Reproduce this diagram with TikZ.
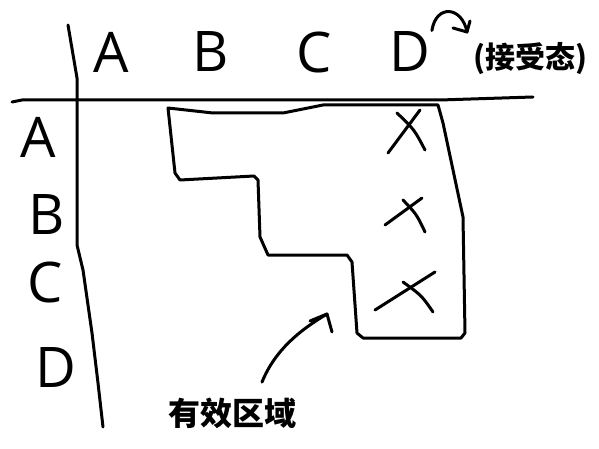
\documentclass[tikz,border=0pt]{standalone}
\usepackage{fontspec}
\setmainfont{Open Sans}
\newfontfamily\cjk{Noto Sans CJK SC}
\begin{document}
\begin{tikzpicture}[x=1pt, y=-1pt, line width=3pt, line join=round, line cap=round,
	letter/.style={inner sep=0pt, font=\fontsize{56}{60}\selectfont},
	note/.style={inner sep=0pt, font=\cjk\bfseries\fontsize{#1}{#1}\selectfont}]
	\useasboundingbox (0,0) rectangle (599,449);
	% table frame
	\draw (68,25)--(77,78)--(77,245)--(83,270)--(92,333)--(98,383)--(103,427);
	\draw (12,102)--(22,100)--(440,100)--(533,97);
	% column and row heads
	\foreach \n/\x in {A/111,B/211,C/314,D/410}{
		\node[letter] (c\n) at (\x,52) {\n};
	}
	\foreach \n/\x/\y in {A/38/137,B/47/215,C/45/282,D/56/368}{
		\node[letter] (r\n) at (\x,\y) {\n};
	}
	% valid region
	\draw (168,108)--(213,113)--(283,113)--(323,105)--(438,105)--(443,123)
		--(463,217)--(465,333)--(461,338)--(363,338)--(357,333)--(352,262)
		--(347,255)--(268,255)--(260,237)--(258,180)--(254,176)--(180,180)
		--(175,173)--cycle;
	% accepting marks
	\foreach \ax/\ay/\bx/\by/\cx/\cy/\dx/\dy in
		{420/110/388/153/397/113/425/150, 422/198/385/225/403/200/425/232,
		 435/272/375/310/403/282/433/312}{
		\draw (\ax,\ay)--(\bx,\by);
		\draw (\cx,\cy) .. controls ({\cx+0.62*(\dx-\cx)},{\cy+0.45*(\dy-\cy)}) .. (\dx,\dy);
	}
	% labels
	\node[note=30] (acc) at (530,59) {(接受态)};
	\node[note=32] (area) at (232,413) {有效区域};
	\coordinate (tipA) at (467,32);
	\coordinate (tipB) at (327,314);
	\draw (cD.north east) .. controls (436,4) and (462,6) .. (tipA);
	\draw (453,28)--(tipA)--(470,21);
	\draw (area.north)++(30,-14) .. controls (275,350) and (300,330) .. (tipB);
	\draw (310,321)--(tipB)--(332,332);
\end{tikzpicture}
\end{document}
